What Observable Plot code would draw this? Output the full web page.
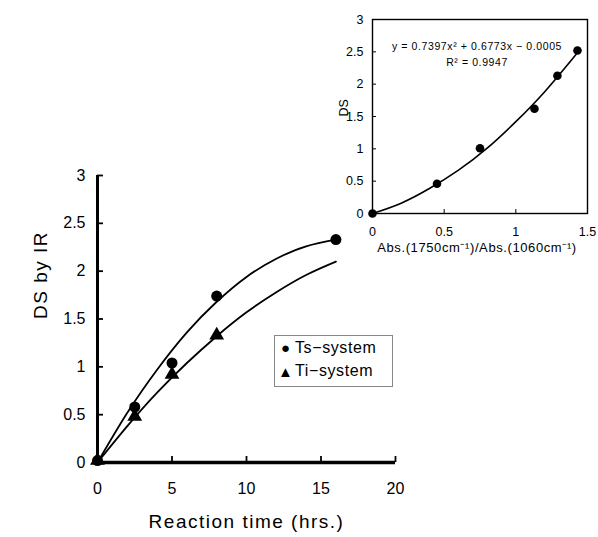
<!DOCTYPE html>
<html><head><meta charset="utf-8">
<script src="https://cdn.jsdelivr.net/npm/d3@7"></script>
<script src="https://cdn.jsdelivr.net/npm/@observablehq/plot@0.6"></script>
<style>
body{margin:0;background:#fff;}
#wrap{position:relative;width:598px;height:537px;font-family:"Liberation Sans",Arial,sans-serif;}
#wrap svg{position:absolute;left:0;top:0;}
#legend{position:absolute;left:274px;top:335px;width:119px;height:52px;border:1px solid #888;background:#fff;font-size:16px;letter-spacing:0.6px;color:#000;box-sizing:border-box;}
#legend div{display:flex;align-items:center;height:23.5px;padding-left:3px;}
#legend span.m{display:inline-block;width:15px;text-align:center;margin-right:2px;font-size:15px;letter-spacing:0;}
</style>
</head><body>
<div id="wrap"></div>
<script>
// Main chart data
const time = [0, 2.5, 5, 8, 16];
const tsValues = [0.02, 0.58, 1.04, 1.74, 2.33];
const tiTime = [0, 2.5, 5, 8];
const tiValues = [0.02, 0.48, 0.92, 1.33];
// Fitted curves
const curveTime = [0, 2, 4, 6, 8, 10, 12, 14, 16];
const tsCurve = [0, 0.52, 0.97, 1.36, 1.68, 1.94, 2.13, 2.26, 2.33];
const tiCurve = [0, 0.38, 0.73, 1.04, 1.32, 1.57, 1.78, 1.96, 2.10];
const xTicks = [0, 5, 10, 15, 20];
const yTicks = [0, 0.5, 1, 1.5, 2, 2.5, 3];

// Inset data
const absRatio = [0, 0.45, 0.75, 1.13, 1.29, 1.43];
const dsValues = [0, 0.46, 1.01, 1.62, 2.13, 2.52];
const fitX = [0, 0.2, 0.4, 0.6, 0.8, 1.0, 1.2, 1.42];
const fitY = [0, 0.16, 0.39, 0.67, 1.01, 1.42, 1.88, 2.46];
const insetXTicks = [0, 0.5, 1, 1.5];
const insetYTicks = [0, 0.5, 1, 1.5, 2, 2.5, 3];

const font = "'Liberation Sans', Arial, sans-serif";
const ts = time.map((t, i) => ({t, v: tsValues[i]}));
const ti = tiTime.map((t, i) => ({t, v: tiValues[i]}));
const tsC = curveTime.map((t, i) => ({t, v: tsCurve[i]}));
const tiC = curveTime.map((t, i) => ({t, v: tiCurve[i]}));

const main = Plot.plot({
  width: 598, height: 537,
  marginLeft: 97, marginRight: 203, marginTop: 175, marginBottom: 75,
  style: {fontFamily: font, fontSize: "16px", background: "transparent", color: "#000", overflow: "visible"},
  x: {domain: [0, 20]},
  y: {domain: [0, 3]},
  marks: [
    Plot.axisX({ticks: xTicks, tickSize: 0, tickPadding: 20, label: null, fontSize: 16}),
    Plot.axisX({ticks: xTicks.slice(1), tickSize: 6, dy: -6, fill: "none", strokeWidth: 1.8}),
    Plot.axisY({ticks: yTicks, tickSize: 0, tickPadding: 12, label: null, fontSize: 16, tickFormat: d => String(d)}),
    Plot.axisY({ticks: yTicks.slice(1), tickSize: 6, dx: 6, fill: "none", strokeWidth: 1.8}),
    Plot.ruleX([0], {stroke: "#000", strokeWidth: 3}),
    Plot.ruleY([0], {stroke: "#000", strokeWidth: 3.5}),
    Plot.line(tsC, {x: "t", y: "v", curve: "natural", strokeWidth: 1.8}),
    Plot.line(tiC, {x: "t", y: "v", curve: "natural", strokeWidth: 1.8}),
    Plot.dot(ts, {x: "t", y: "v", r: 5.5, fill: "#000", stroke: "none"}),
    Plot.dot(ti, {x: "t", y: "v", r: 5.5, symbol: "triangle", fill: "#000", stroke: "none"}),
    Plot.text(["Reaction time (hrs.)"], {frameAnchor: "bottom", dy: 65, fontSize: 19}),
    Plot.text(["DS by IR"], {frameAnchor: "left", dx: -57, rotate: -90, fontSize: 19})
  ]
});

const ins = absRatio.map((x, i) => ({x, y: dsValues[i]}));
const fit = fitX.map((x, i) => ({x, y: fitY[i]}));

const inset = Plot.plot({
  width: 598, height: 537,
  marginLeft: 372, marginRight: 11, marginTop: 19, marginBottom: 324,
  style: {fontFamily: font, fontSize: "12px", background: "transparent", color: "#000", overflow: "visible"},
  x: {domain: [0, 1.5]},
  y: {domain: [0, 3]},
  marks: [
    Plot.axisX({ticks: insetXTicks, tickSize: 0, tickPadding: 14, label: null, fontSize: 12.5, tickFormat: d => String(d)}),
    Plot.axisX({ticks: insetXTicks.slice(1, 3), tickSize: 4, dy: -4, fill: "none"}),
    Plot.axisY({ticks: insetYTicks, tickSize: 0, tickPadding: 9, label: null, fontSize: 12.5, tickFormat: d => String(d)}),
    Plot.axisY({ticks: insetYTicks.slice(1, 6), tickSize: 4, dx: 4, fill: "none"}),
    Plot.frame({stroke: "#000", strokeWidth: 1.4}),
    Plot.line(fit, {x: "x", y: "y", curve: "natural", strokeWidth: 1.6}),
    Plot.dot(ins, {x: "x", y: "y", r: 4.3, fill: "#000", stroke: "none"}),
    Plot.text(["y = 0.7397x\u00B2 + 0.6773x \u2212 0.0005"], {frameAnchor: "top", dx: -3, dy: 23, fontSize: 10.5}),
    Plot.text(["R\u00B2 = 0.9947"], {frameAnchor: "top", dx: -3, dy: 39, fontSize: 10.5}),
    Plot.text(["Abs.(1750cm\u207B\u00B9)/Abs.(1060cm\u207B\u00B9)"], {frameAnchor: "bottom", dx: -3, dy: 38, fontSize: 13}),
    Plot.text(["DS"], {frameAnchor: "left", dx: -29, rotate: -90, fontSize: 12.5})
  ]
});

// widen glyph spacing to resemble the original's wide gothic face
d3.select(main).selectAll("g[aria-label='text'] text").style("letter-spacing", "1.5px");
d3.select(inset).selectAll("g[aria-label='text'] text")
  .filter(function() { return this.textContent !== "DS"; })
  .style("letter-spacing", "0.6px");

const wrap = document.getElementById("wrap");
wrap.appendChild(main);
wrap.appendChild(inset);
const leg = document.createElement("div");
leg.id = "legend";
leg.innerHTML = '<div><span class="m">\u25CF</span>Ts\u2212system</div><div><span class="m">\u25B2</span>Ti\u2212system</div>';
wrap.appendChild(leg);
</script>
</body></html>
